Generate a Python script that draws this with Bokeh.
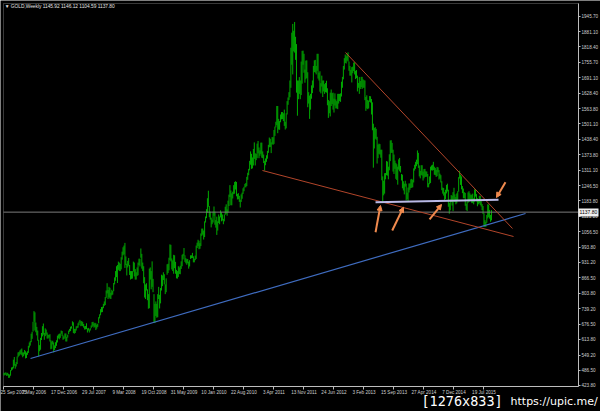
from bokeh.plotting import figure
from bokeh.models import (Range1d, FixedTicker, Label, Arrow, NormalHead, LinearAxis,
                          ColumnDataSource, NumeralTickFormatter, AllLabels, BoxAnnotation)
from bokeh.embed import file_html
from bokeh.resources import INLINE

# ---------------- data: weekly (low, high) of GOLD, one list per year ----------------
bars_2005 = [(465,476),(466,476),(468,478),(463,474),(465,476),
             (455,471),(456,469),(464,487),(485,498),(489,500),
             (494,530),(505,541),(493,512),(502,520)]
bars_2006 = [(512,543),(540,560),(545,562),(550,568),(553,572),
             (548,576),(540,560),(545,560),(552,570),
             (535,565),(537,559),(550,565),(558,587),
             (580,601),(588,607),(602,637),(616,645),(646,686),
             (686,730),(650,725),(643,683),(630,665),
             (608,650),(543,612),(565,590),(571,620),
             (611,640),(626,668),(633,679),(612,640),(627,659),
             (633,654),(617,642),(617,633),(621,632),
             (605,635),(573,610),(575,605),(593,608),
             (560,601),(570,589),(578,602),(587,610),(601,629),
             (618,634),(614,637),(620,638),(637,650),
             (628,648),(612,630),(615,625),(621,638),(605,638)]
bars_2007 = [(605,624),(621,633),(635,650),(645,657),
             (648,666),(658,668),(670,688),(640,684),
             (637,657),(640,657),(650,667),(660,669),
             (662,680),(672,687),(683,694),(668,688),(670,689),
             (668,685),(662,677),(654,668),(655,669),
             (656,680),(642,659),(650,661),(642,655),
             (650,660),(660,671),(665,685),(670,686),(662,679),
             (665,682),(652,680),(658,674),(665,678),
             (680,705),(700,717),(713,738),(725,747),(726,748),
             (742,760),(752,770),(755,788),(785,815),
             (803,845),(780,817),(787,830),(782,826),
             (780,806),(795,818),(798,813),(812,846),(840,869)]
bars_2008 = [(855,895),(870,915),(846,920),(900,934),
             (895,930),(895,925),(902,952),(942,975),
             (960,993),(964,1000),(908,1011),(920,955),(877,925),
             (910,937),(917,949),(879,920),(860,895),
             (863,895),(864,895),(893,934),(873,930),
             (860,903),(860,890),(875,910),(878,930),(920,946),
             (914,946),(950,988),(905,966),(895,930),
             (845,915),(786,870),(780,840),(815,845),(775,820),
             (740,800),(742,905),(860,910),(820,895),
             (830,935),(808,863),(681,800),(681,760),
             (710,770),(703,760),(705,800),(780,830),(741,797),
             (762,825),(815,880),(833,877),(858,890)]
bars_2009 = [(840,882),(800,840),(808,865),(880,923),
             (887,925),(898,950),(940,1005),(935,1003),
             (902,947),(895,939),(884,962),(907,960),(884,933),
             (865,900),(864,895),(871,915),(883,910),
             (882,917),(904,935),(915,962),(943,966),(958,990),
             (933,960),(927,948),(921,944),(927,945),
             (905,934),(914,940),(945,960),(948,960),
             (949,970),(931,956),(931,946),(940,959),(945,1000),
             (990,1012),(998,1024),(985,1020),(987,1010),
             (998,1050),(1040,1070),(1045,1070),(1025,1062),
             (1035,1100),(1095,1120),(1113,1150),(1136,1195),(1160,1226),
             (1117,1163),(1107,1140),(1075,1115),(1088,1107)]
bars_2010 = [(1095,1140),(1123,1161),(1086,1140),(1074,1105),(1044,1119),
             (1062,1100),(1093,1128),(1088,1120),(1116,1145),
             (1100,1137),(1103,1128),(1088,1110),(1100,1128),
             (1127,1160),(1131,1170),(1123,1149),(1136,1185),
             (1163,1210),(1200,1249),(1166,1227),(1166,1215),(1194,1222),
             (1212,1249),(1214,1262),(1231,1265),(1203,1262),
             (1190,1213),(1191,1216),(1180,1205),(1157,1189),
             (1180,1211),(1193,1218),(1213,1236),(1224,1242),(1240,1254),
             (1240,1258),(1245,1283),(1271,1300),(1290,1316),
             (1310,1349),(1333,1388),(1316,1378),(1318,1363),(1330,1398),
             (1357,1425),(1330,1380),(1352,1378),(1360,1420),
             (1380,1431),(1360,1404),(1370,1392),(1378,1424)]
bars_2011 = [(1362,1424),(1360,1388),(1340,1375),(1309,1349),(1331,1359),
             (1345,1372),(1358,1390),(1382,1415),(1405,1445),
             (1406,1440),(1381,1425),(1418,1447),(1415,1446),
             (1419,1476),(1452,1490),(1487,1510),(1496,1575),
             (1463,1575),(1478,1522),(1477,1513),(1508,1540),(1520,1550),
             (1521,1550),(1513,1545),(1493,1560),(1478,1510),
             (1483,1545),(1540,1595),(1580,1610),(1600,1632),(1611,1680),
             (1650,1815),(1745,1877),(1705,1913),(1800,1885),
             (1795,1921),(1765,1860),(1630,1830),(1535,1680),
             (1603,1680),(1625,1694),(1603,1680),(1620,1758),(1667,1802),
             (1745,1803),(1712,1790),(1671,1725),(1685,1762),
             (1690,1763),(1570,1714),(1585,1632),(1522,1618)]
bars_2012 = [(1560,1625),(1605,1660),(1628,1680),(1650,1740),(1715,1763),
             (1712,1765),(1705,1740),(1720,1790),(1688,1790),
             (1680,1712),(1634,1718),(1627,1669),(1655,1700),
             (1612,1680),(1635,1680),(1625,1665),(1632,1670),(1630,1679),
             (1578,1648),(1526,1600),(1545,1595),(1532,1630),
             (1575,1643),(1583,1628),(1560,1630),(1548,1605),
             (1577,1627),(1565,1602),(1565,1595),(1562,1625),(1585,1625),
             (1595,1625),(1592,1627),(1614,1675),(1650,1695),
             (1685,1740),(1725,1772),(1752,1787),(1750,1780),(1762,1791),
             (1758,1796),(1720,1758),(1700,1740),(1700,1724),
             (1672,1735),(1710,1737),(1719,1754),(1705,1755),
             (1686,1720),(1690,1723),(1635,1700),(1650,1670),(1625,1694)]
bars_2013 = [(1645,1678),(1653,1695),(1645,1695),(1650,1685),
             (1650,1681),(1599,1680),(1555,1612),(1565,1619),
             (1562,1600),(1565,1597),(1592,1616),(1589,1615),(1540,1604),
             (1475,1590),(1321,1502),(1400,1484),(1440,1488),
             (1436,1481),(1338,1448),(1360,1416),(1378,1420),
             (1375,1418),(1362,1395),(1269,1395),(1180,1285),(1207,1267),
             (1214,1298),(1273,1299),(1290,1348),(1288,1346),
             (1273,1325),(1310,1376),(1348,1433),(1382,1434),
             (1382,1423),(1305,1395),(1295,1375),(1316,1350),(1275,1340),
             (1270,1335),(1251,1325),(1313,1355),(1306,1361),
             (1301,1328),(1268,1295),(1236,1292),(1227,1265),
             (1211,1255),(1243,1267),(1186,1255),(1191,1218),(1182,1239)]
bars_2014 = [(1219,1256),(1230,1256),(1237,1273),(1238,1275),
             (1240,1271),(1260,1318),(1309,1333),(1316,1345),
             (1327,1354),(1335,1392),(1320,1382),(1285,1330),(1277,1308),
             (1291,1331),(1288,1331),(1268,1305),(1277,1315),
             (1283,1316),(1283,1306),(1284,1305),(1240,1295),
             (1240,1257),(1253,1285),(1258,1325),(1310,1330),(1309,1333),
             (1311,1345),(1292,1325),(1290,1320),(1283,1312),
             (1286,1324),(1302,1322),(1272,1311),(1276,1296),(1260,1290),
             (1228,1265),(1214,1239),(1206,1237),(1183,1220),
             (1192,1230),(1215,1250),(1223,1255),(1160,1230),
             (1131,1175),(1145,1190),(1180,1208),(1165,1205),(1142,1220),
             (1190,1238),(1180,1211),(1170,1200),(1174,1215)]
bars_2015 = [(1188,1224),(1222,1282),(1276,1308),(1250,1292),
             (1232,1285),(1216,1245),(1195,1235),(1195,1220),
             (1164,1217),(1147,1172),(1142,1180),(1176,1219),(1180,1224),
             (1186,1215),(1183,1209),(1175,1210),(1175,1214),
             (1170,1195),(1181,1232),(1202,1232),(1182,1212),(1162,1195),
             (1170,1191),(1174,1205),(1167,1205),(1161,1183),
             (1146,1171),(1130,1163),(1077,1133),(1077,1105),
             (1077,1098),(1094,1126),(1112,1170),(1117,1169),(1111,1147),
             (1098,1126),(1104,1146)]

header_symbol = "GOLD,Weekly"
header_ohlc = [1145.92, 1146.12, 1104.59, 1137.80]
last_price = 1137.80
watermark_size = "[1276x833]"
watermark_url = "https://upic.me/"

# x-axis: week index of each date label
x_tick_weeks = [0, 32, 64, 96, 128, 160, 192, 224, 256, 288, 320, 352, 384, 416, 448, 480, 512]
x_tick_labels = ["25 Sep 2005", "7 May 2006", "17 Dec 2006", "29 Jul 2007", "9 Mar 2008",
                 "19 Oct 2008", "31 May 2009", "10 Jan 2010", "22 Aug 2010", "3 Apr 2011",
                 "13 Nov 2011", "24 Jun 2012", "3 Feb 2013", "15 Sep 2013", "27 Apr 2014",
                 "7 Dec 2014", "19 Jul 2015"]
y_ticks = [423.8, 486.5, 549.2, 613.8, 676.5, 739.2, 803.8, 866.5, 931.2, 993.8, 1056.5,
           1121.2, 1183.8, 1246.5, 1311.1, 1373.8, 1438.4, 1501.1, 1563.8, 1628.4, 1691.1,
           1755.7, 1818.4, 1881.1, 1945.7]

# drawn objects (week index, price)
blue_x, blue_y = [28.3, 556.3], [534.9, 1132.2]
red1_x, red1_y = [364.3, 542.4], [1795.4, 1070.4]
red2_x, red2_y = [275.7, 543.5], [1309.3, 1037.4]
flat_x, flat_y = [396.3, 527.5], [1178.7, 1188.6]
arrow_x0 = [396.3, 414.1, 453.9, 534.9]
arrow_y0 = [1055.1, 1062.1, 1107.5, 1261.1]
arrow_x1 = [401.6, 426.1, 466.7, 525.3]
arrow_y1 = [1165.1, 1158.1, 1169.2, 1198.1]

# chart window (weeks / price) and the whole canvas around it
CH_X0, CH_X1 = -0.53, 612.8
CH_Y0, CH_Y1 = 419.7, 1997.2
CANVAS_X = (-3.73, 636.27)
CANVAS_Y = (316.6, 2009.55)

# ---------------- build ----------------
bars = (bars_2005 + bars_2006 + bars_2007 + bars_2008 + bars_2009 + bars_2010 +
        bars_2011 + bars_2012 + bars_2013 + bars_2014 + bars_2015)
src = ColumnDataSource(dict(x=list(range(len(bars))),
                            lo=[b[0] for b in bars], hi=[b[1] for b in bars]))

p = figure(width=600, height=411, output_backend="svg", toolbar_location=None,
           x_range=Range1d(*CANVAS_X), y_range=Range1d(*CANVAS_Y),
           y_axis_location="right", min_border_left=0, min_border_right=0,
           min_border_top=0, min_border_bottom=0)
p.background_fill_color = "black"
p.border_fill_color = "black"
p.outline_line_color = None
p.xgrid.visible = False
p.ygrid.visible = False

AX = "#bdbdbd"
TXT = "#cfcfcf"
xa, ya = p.xaxis[0], p.yaxis[0]
xa.fixed_location = CH_Y0
xa.bounds = (CH_X0, CH_X1)
ya.fixed_location = CH_X1
ya.bounds = (CH_Y0, CH_Y1)
for ax in (xa, ya):
    ax.axis_line_color = AX
    ax.major_tick_line_color = AX
    ax.minor_tick_line_color = None
    ax.major_tick_in = 0
    ax.major_label_text_color = TXT
    ax.major_label_text_font = "Liberation Sans"
    ax.major_label_text_font_size = "4.6px"
    ax.major_label_standoff = 1
    ax.major_label_policy = AllLabels()

xa.ticker = FixedTicker(ticks=x_tick_weeks)
xa.major_label_overrides = {w: s for w, s in zip(x_tick_weeks, x_tick_labels)}
xa.major_tick_out = 3
xa.major_label_text_align = "left"
ya.ticker = FixedTicker(ticks=y_ticks)
ya.formatter = NumeralTickFormatter(format="0.00")
ya.major_tick_out = 2

# chart border
p.add_layout(BoxAnnotation(left=CH_X0, right=CH_X1, bottom=CH_Y0, top=CH_Y1,
                           fill_color=None, fill_alpha=0, line_color=AX, line_width=1,
                           level="underlay"))

# price bars
p.segment("x", "lo", "x", "hi", source=src, line_color="#00aa00", line_width=1.0)

# current price line (inside the chart window)
p.line([CH_X0, CH_X1], [last_price, last_price], line_color="#7c7c7c", line_width=1)

# trend lines
p.line(blue_x, blue_y, line_color="#3f6cc0", line_width=1.2)
p.line(red1_x, red1_y, line_color="#b2452a", line_width=1)
p.line(red2_x, red2_y, line_color="#b2452a", line_width=1)
p.line(flat_x, flat_y, line_color="#b9b9e6", line_width=2)

asrc = ColumnDataSource(dict(x0=arrow_x0, y0=arrow_y0, x1=arrow_x1, y1=arrow_y1))
p.add_layout(Arrow(end=NormalHead(size=5, fill_color="#f08a4e", line_color="#f08a4e"),
                   x_start="x0", y_start="y0", x_end="x1", y_end="y1", source=asrc,
                   line_color="#f08a4e", line_width=2))

# header
p.add_layout(Label(x=0.8, y=1984.8, text="\u25bc " + header_symbol + "  " +
                   " ".join(f"{v:.2f}" for v in header_ohlc),
                   text_font="Liberation Sans", text_font_size="4.8px", text_color="#e6e6e6",
                   text_baseline="middle"))

# price tag on the price axis: a fixed-location axis whose single thick tick is the box
tag = LinearAxis(fixed_location=CH_X1, ticker=FixedTicker(ticks=[last_price]),
                 formatter=NumeralTickFormatter(format="0.00"),
                 axis_line_color=None, minor_tick_line_color=None,
                 major_tick_in=0, major_tick_out=20, major_tick_line_width=8,
                 major_tick_line_color="#f0f0f0", major_label_standoff=-19,
                 major_label_text_color="black", major_label_text_font="Liberation Sans",
                 major_label_text_font_size="5px")
p.add_layout(tag, "right")

# image-host watermark (centred vertically on the strip below the chart)
p.add_layout(Label(x=445.3, y=357.8, text=watermark_size, text_font="DejaVu Sans Mono",
                   text_font_size="13.5px", text_color="white", text_baseline="middle"))
p.add_layout(Label(x=540.3, y=357.8, text=watermark_url, text_font="DejaVu Sans",
                   text_font_size="11px", text_color="white", text_baseline="middle"))

open("out.html", "w").write(file_html(p, INLINE))
